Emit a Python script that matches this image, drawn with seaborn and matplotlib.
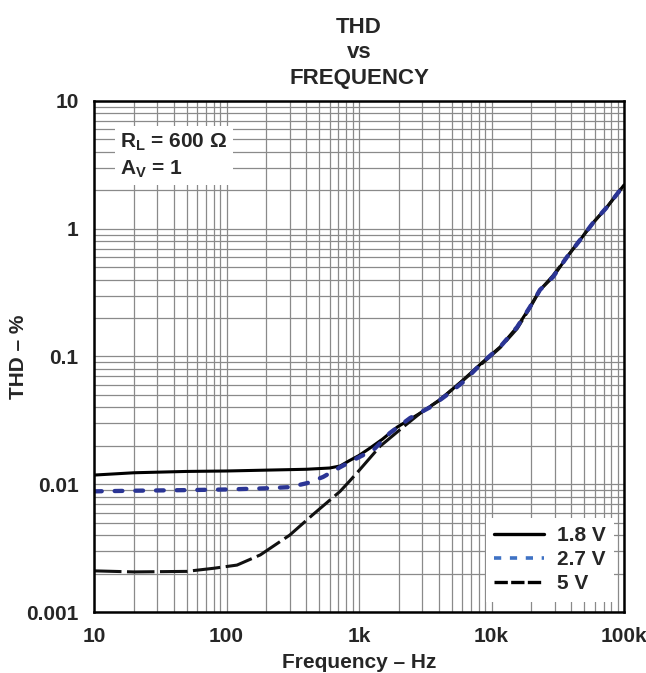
import numpy as np
import pandas as pd
import seaborn as sns
from matplotlib import pyplot as plt
from matplotlib.lines import Line2D
from matplotlib.ticker import LogLocator, NullFormatter

# THD vs frequency
freq_18 = [10, 20, 50, 100, 200, 400, 600, 720, 855, 1000, 1210, 1500, 1940, 2400, 2890,
           4080, 6100, 8600, 11600, 15600, 19500, 23200, 29100, 37100, 46600, 58300, 74500, 100000]
thd_18 = [0.0118, 0.0123, 0.0126, 0.0127, 0.0129, 0.0131, 0.0134, 0.0139, 0.0154, 0.0168, 0.0192,
          0.0225, 0.028, 0.032, 0.036, 0.0456, 0.0654, 0.0906, 0.1186, 0.170, 0.244, 0.332,
          0.419, 0.601, 0.817, 1.11, 1.48, 2.2]

freq_27 = [10, 20, 50, 100, 200, 300, 405, 535, 720, 966, 1280, 1710, 2430, 3430, 4600, 6100,
           8600, 11600, 15600, 19500, 23200, 29100, 37100, 46600, 58300, 74500, 100000]
thd_27 = [0.0088, 0.0089, 0.0090, 0.0091, 0.0093, 0.0095, 0.0102, 0.0114, 0.0136, 0.0160, 0.0185,
          0.0252, 0.033, 0.040, 0.050, 0.063, 0.0906, 0.1186, 0.170, 0.244, 0.332, 0.419,
          0.601, 0.817, 1.11, 1.48, 2.2]

freq_5 = [10, 20, 50, 80, 120, 180, 300, 450, 720, 850, 1000, 1440, 2150, 2900, 4080, 6100, 8600,
          11600, 15600, 19500, 23200, 29100, 37100, 46600, 58300, 74500, 100000]
thd_5 = [0.0021, 0.00206, 0.00208, 0.0022, 0.00233, 0.0028, 0.0040, 0.0058, 0.0088, 0.0106,
         0.0128, 0.0198, 0.028, 0.036, 0.046, 0.065, 0.089, 0.117, 0.165, 0.24, 0.33, 0.43,
         0.60, 0.82, 1.11, 1.48, 2.2]

x_ticks = [10, 100, 1000, 10000, 100000]
x_labels = ["10", "100", "1k", "10k", "100k"]
y_ticks = [0.001, 0.01, 0.1, 1, 10]
y_labels = ["0.001", "0.01", "0.1", "1", "10"]

navy = "#2b3595"
legend_blue = "#3f72c4"

sns.set_style("white")
plt.rcParams["font.family"] = ["Liberation Sans", "DejaVu Sans"]
plt.rcParams["font.weight"] = "bold"
plt.rcParams["mathtext.fontset"] = "custom"
plt.rcParams["mathtext.rm"] = "Liberation Sans:bold"
plt.rcParams["mathtext.bf"] = "Liberation Sans:bold"
plt.rcParams["mathtext.it"] = "Liberation Sans:bold"

df18 = pd.DataFrame({"freq": freq_18, "thd": thd_18})
df27 = pd.DataFrame({"freq": freq_27, "thd": thd_27})
df5 = pd.DataFrame({"freq": freq_5, "thd": thd_5})

fig = plt.figure(figsize=(6.46, 6.73), dpi=100)
ax = fig.add_axes([0.1455, 0.0906, 0.8205, 0.7594])

sns.lineplot(data=df18, x="freq", y="thd", ax=ax, color="black", linewidth=2.2)
sns.lineplot(data=df5, x="freq", y="thd", ax=ax, color="#111111", linewidth=2.2,
             linestyle=(0, (9, 1.8)))
sns.lineplot(data=df27, x="freq", y="thd", ax=ax, color=navy, linewidth=3.1,
             linestyle=(0, (1.8, 3.0)), dash_capstyle="round")

ax.set_xscale("log")
ax.set_yscale("log")
ax.set_xlim(10, 100000)
ax.set_ylim(0.001, 10)
ax.set_xticks(x_ticks)
ax.set_xticklabels(x_labels)
ax.set_yticks(y_ticks)
ax.set_yticklabels(y_labels)
ax.xaxis.set_minor_locator(LogLocator(base=10, subs=np.arange(2, 10)))
ax.yaxis.set_minor_locator(LogLocator(base=10, subs=np.arange(2, 10)))
ax.xaxis.set_minor_formatter(NullFormatter())
ax.yaxis.set_minor_formatter(NullFormatter())
ax.tick_params(which="both", length=0, labelsize=15, pad=11)

ax.grid(True, which="both", color="#8a8a8a", linewidth=0.9)
ax.set_axisbelow(True)
for sp in ax.spines.values():
    sp.set_color("black")
    sp.set_linewidth(1.8)

ax.set_xlabel("Frequency – Hz", fontsize=15, fontweight="bold", labelpad=5)
ax.set_ylabel("THD – %", fontsize=15, fontweight="bold")
ax.yaxis.set_label_coords(-0.125, 0.5)
ax.set_title("THD\nvs\nFREQUENCY", fontsize=16, fontweight="bold", linespacing=1.3, pad=12)

ax.text(0.05, 0.94, "R$_\\mathbf{L}$ = 600 Ω\nA$_\\mathbf{V}$ = 1", transform=ax.transAxes,
        fontsize=15, fontweight="bold", va="top", ha="left", linespacing=1.35,
        bbox=dict(facecolor="white", edgecolor="none", pad=4))

handles = [
    Line2D([], [], color="black", linewidth=2.4),
    Line2D([], [], color=legend_blue, linewidth=2.6, linestyle=(0, (2.0, 2.4))),
    Line2D([], [], color="black", linewidth=2.4, linestyle=(0, (4, 1))),
]
leg = ax.legend(handles, ["1.8 V", "2.7 V", "5 V"], loc="lower right", fontsize=15,
                frameon=True, facecolor="white", edgecolor="none", framealpha=1,
                handlelength=2.4, handletextpad=0.6, labelspacing=0.25,
                borderaxespad=0.5, fancybox=False)
for t in leg.get_texts():
    t.set_fontweight("bold")

fig.savefig("out.png", dpi=100)
